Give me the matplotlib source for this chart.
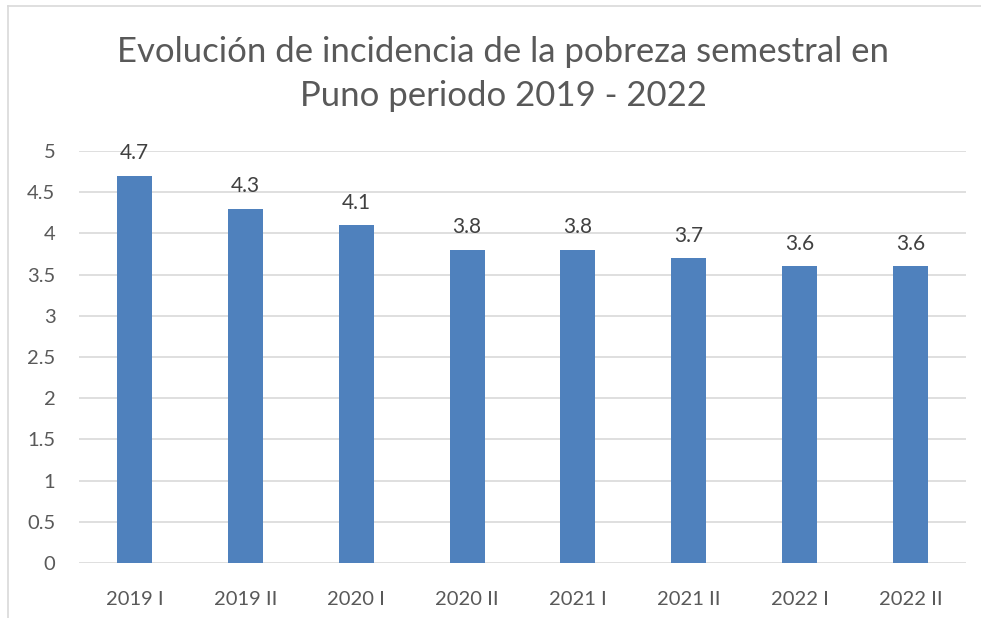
import matplotlib
matplotlib.use("Agg")
import matplotlib.pyplot as plt
from matplotlib.lines import Line2D

categories = ["2019 I", "2019 II", "2020 I", "2020 II", "2021 I", "2021 II", "2022 I", "2022 II"]
values = [4.7, 4.3, 4.1, 3.8, 3.8, 3.7, 3.6, 3.6]
yticks = [0, 0.5, 1, 1.5, 2, 2.5, 3, 3.5, 4, 4.5, 5]
ytick_labels = ["0", "0.5", "1", "1.5", "2", "2.5", "3", "3.5", "4", "4.5", "5"]
title = "Evolución de incidencia de la pobreza semestral en\nPuno periodo 2019 - 2022"

plt.rcParams['font.family'] = ['Lato', 'DejaVu Sans']
grey = "#595959"

fig = plt.figure(figsize=(9.81, 6.18), dpi=100)
ax = fig.add_axes([79/981, 1-563/618, (966-79)/981, (563-151)/618])

x = list(range(len(categories)))
ax.bar(x, values, width=0.315, color="#4f81bd", zorder=3)
for xi, v in zip(x, values):
    ax.annotate(f"{v}", (xi, v), xytext=(0, 9), textcoords="offset points",
                ha="center", va="bottom", fontsize=15, color="#404040")

ax.set_xlim(-0.5, len(categories) - 0.5)
ax.set_ylim(0, 5)
ax.set_yticks(yticks)
ax.set_yticklabels(ytick_labels)
ax.set_xticks(x)
ax.set_xticklabels(categories)
ax.tick_params(axis="both", length=0, labelsize=14.5, colors=grey)
ax.tick_params(axis="x", pad=20)
ax.tick_params(axis="y", pad=17)
ax.yaxis.grid(True, color="#d9d9d9", linewidth=1.2, zorder=0)
for s in ax.spines.values():
    s.set_visible(False)

fig.text(503/981, 1-74/618, title, ha="center", va="center", fontsize=25,
         color=grey, linespacing=1.5)

# chart border (left and top visible)
fig.add_artist(Line2D([8/981, 8/981], [0, 1-6/618], color="#d9d9d9", linewidth=1.2, transform=fig.transFigure))
fig.add_artist(Line2D([8/981, 1], [1-6/618, 1-6/618], color="#d9d9d9", linewidth=1.2, transform=fig.transFigure))

fig.savefig("out.png", dpi=100)
